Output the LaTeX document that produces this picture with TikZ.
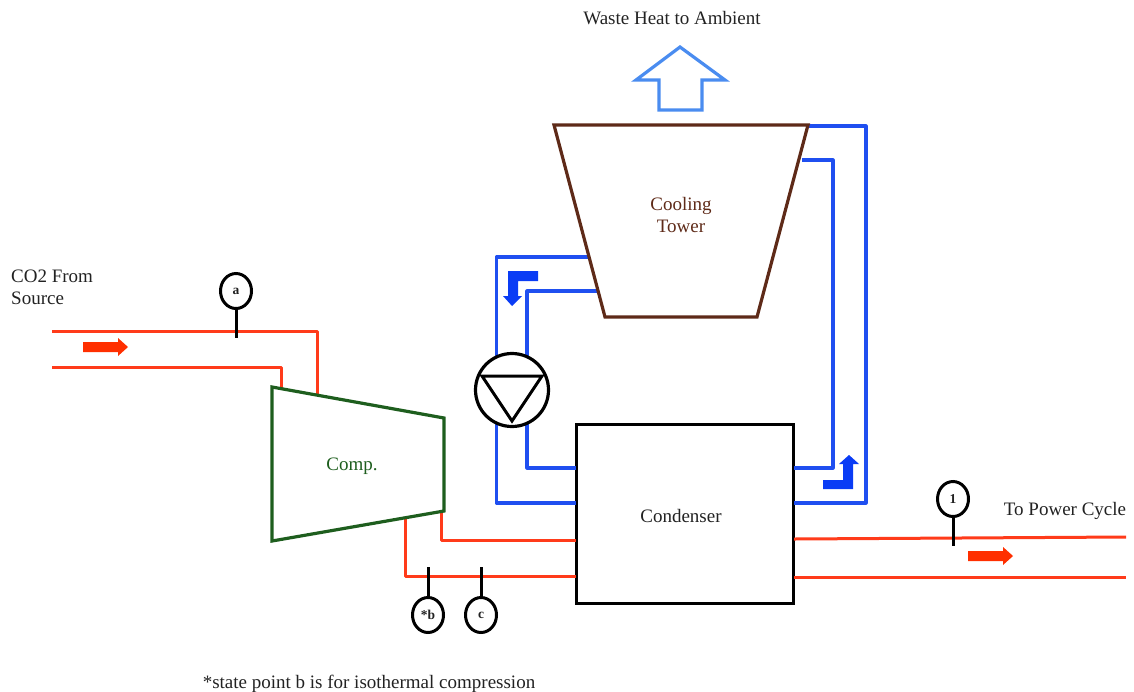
\documentclass[tikz,border=0pt]{standalone}
\usepackage{fontspec}
\setmainfont{Liberation Serif}
\definecolor{pipered}{HTML}{FF3B1A}
\definecolor{flowred}{HTML}{FF2F00}
\definecolor{pipeblue}{HTML}{1F4FF0}
\definecolor{flowblue}{HTML}{0A3CF5}
\definecolor{ambblue}{HTML}{4A8CF0}
\definecolor{towerbrown}{HTML}{5E2A18}
\definecolor{compgreen}{HTML}{1E5E1E}
\definecolor{txtgray}{HTML}{222222}
\tikzset{
  redpipe/.style={draw=pipered,line width=3pt,line join=round},
  bluepipe/.style={draw=pipeblue,line width=3.1pt,line join=round},
  gauge/.style={draw=black,line width=3pt,fill=white,ellipse,minimum width=31pt,minimum height=35pt,inner sep=0pt,font=\fontsize{13.5}{13.5}\selectfont\bfseries,text=txtgray},
  stem/.style={draw=black,line width=3pt},
  lab/.style={font=\fontsize{19}{22}\selectfont,text=txtgray,inner sep=0pt},
  equip/.style={line width=3.2pt,line join=miter}
}
\usetikzlibrary{shapes.geometric}
\begin{document}
\begin{tikzpicture}[x=1pt,y=-1pt]
\useasboundingbox (0,0) rectangle (1134,691);
% ambient arrow
\draw[ambblue,line width=3.2pt,line join=miter] (680,47) -- (725,80) -- (702,80) -- (702,110) -- (659,110) -- (659,80) -- (636,80) -- cycle;
\node[lab] (waste) at (672,18) {Waste Heat to Ambient};
% coordinates on equipment
\coordinate (t1) at (554,125); \coordinate (t2) at (808,125);
\coordinate (t3) at (757,317); \coordinate (t4) at (605,317);
\node[draw=black,line width=3.2pt,minimum width=217pt,minimum height=179pt,inner sep=0pt,lab] (cond) at (685,514) {};
\node[lab] (condlab) at (681,516) {Condenser};
% blue loop
\draw[bluepipe] (808,126) -- (866,126) -- (866,503) -- (794,503);
\draw[bluepipe] (802,160) -- (833,160) -- (833,468) -- (794,468);
\draw[bluepipe] (588,257) -- (496.5,257) -- (496.5,503) -- (576,503);
\draw[bluepipe] (597,291) -- (527,291) -- (527,468) -- (576,468);
% tower
\draw[towerbrown,equip] (t1) -- (t2) -- (t3) -- (t4) -- cycle;
\node[lab,text=towerbrown,align=center] (tower) at (681,215) {Cooling\\Tower};
% pump
\node[draw=black,fill=white,circle,line width=3.2pt,minimum size=73pt,inner sep=0pt] (pump) at (512,390) {};
\draw[black,line width=3pt,line join=miter] (482,376) -- (542,376) -- (512,421) -- cycle;
% red pipes
\draw[redpipe] (52,331) -- (317,331) -- (317,394);
\draw[redpipe] (52,367) -- (281,367) -- (281,388);
\draw[redpipe] (441,511) -- (441,540) -- (576,540);
\draw[redpipe] (405,518) -- (405,576) -- (576,576);
\draw[redpipe] (794,539) -- (1126,537);
\draw[redpipe] (794,577) -- (1126,577);
% compressor
\draw[compgreen,equip] (272,387) -- (444,418) -- (444,511) -- (272,541) -- cycle;
\node[lab,text=compgreen] (comp) at (352,466) {Comp.};
% flow arrows
\fill[flowred] (83,342) -- (118,342) -- (118,338) -- (128,347) -- (118,356) -- (118,352) -- (83,352) -- cycle;
\fill[flowred] (968,551) -- (1003,551) -- (1003,547) -- (1013,556) -- (1003,565) -- (1003,561) -- (968,561) -- cycle;
\fill[flowblue] (538,271) -- (508,271) -- (508,296) -- (503,296) -- (512,306) -- (522,296) -- (518,296) -- (518,281) -- (538,281) -- cycle;
\fill[flowblue] (823,480) -- (843,480) -- (843,464) -- (839,464) -- (849,455) -- (859,464) -- (853,464) -- (853,489) -- (823,489) -- cycle;
% gauges
\node[gauge] (ga) at (236,291) {a};
\coordinate (gae) at (236,338); \draw[stem] (ga) -- (gae);
\node[gauge] (g1) at (953,499) {1};
\coordinate (g1e) at (953,546); \draw[stem] (g1) -- (g1e);
\node[gauge] (gb) at (428,615) {*b};
\coordinate (gbe) at (428,567); \draw[stem] (gb) -- (gbe);
\node[gauge] (gc) at (481,615) {c};
\coordinate (gce) at (481,567); \draw[stem] (gc) -- (gce);
% labels
\node[lab,anchor=west,align=left] (co2) at (11,287) {CO2 From\\Source};
\node[lab] (power) at (1065,511) {To Power Cycle};
\node[lab] (note) at (369,684) {*state point b is for isothermal compression};
\end{tikzpicture}
\end{document}
